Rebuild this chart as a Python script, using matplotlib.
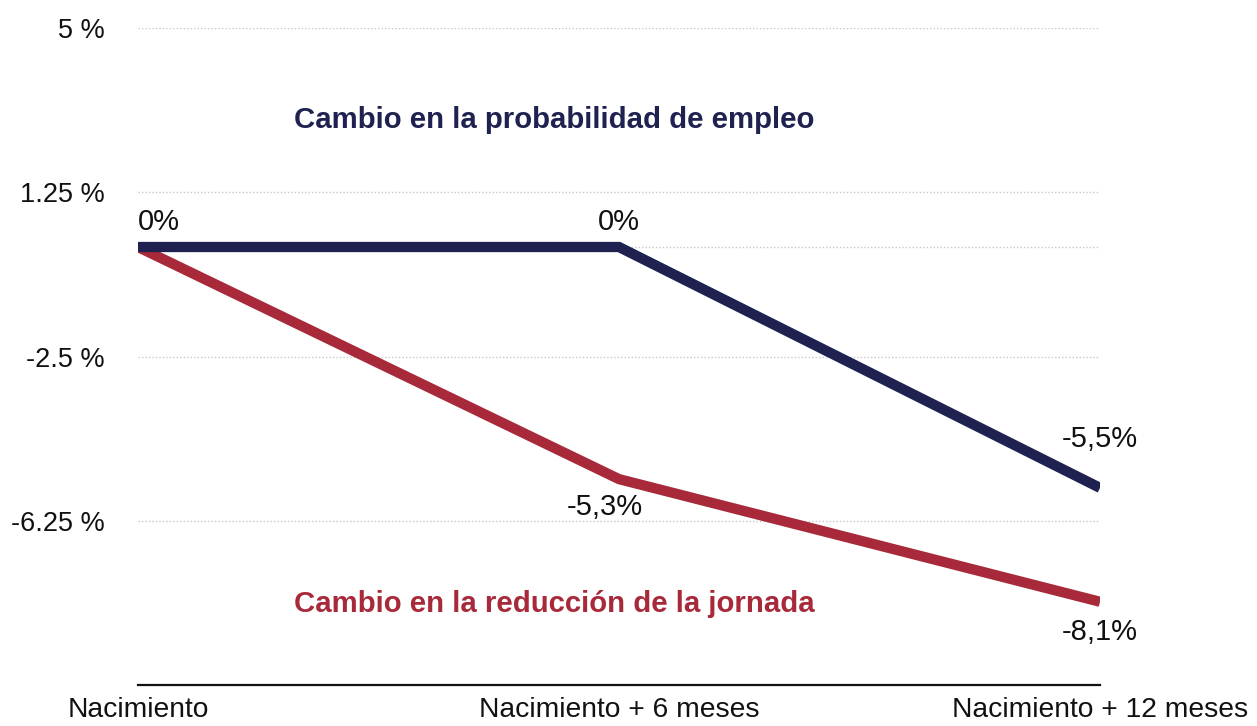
import matplotlib
matplotlib.use("Agg")
import matplotlib.pyplot as plt

plt.rcParams['font.family'] = ['Liberation Sans', 'DejaVu Sans']

periodos = ["Nacimiento", "Nacimiento + 6 meses", "Nacimiento + 12 meses"]
empleo = [0.0, 0.0, -5.5]
jornada = [0.0, -5.3, -8.1]
etiquetas_empleo = ["0%", "0%", "-5,5%"]
etiquetas_jornada = [None, "-5,3%", "-8,1%"]
yticks = [-6.25, -2.5, 1.25, 5]
ytick_labels = ["-6.25 %", "-2.5 %", "1.25 %", "5 %"]

azul = "#1f2251"
rojo = "#a82a3a"

fig = plt.figure(figsize=(12.57, 7.26), dpi=100)
ax = fig.add_axes([0.1098, 0.0565, 0.7653, 0.9049])

x = list(range(len(periodos)))
ax.plot(x, jornada, color=rojo, lw=7.4, solid_capstyle='butt', solid_joinstyle='miter', zorder=3)
ax.plot(x, empleo, color=azul, lw=7.4, solid_capstyle='butt', solid_joinstyle='miter', zorder=4)

ax.set_xlim(0, 2)
ax.set_ylim(-10, 5)

# grid: dotted light grey, plus one extra line at zero
ax.set_yticks(yticks)
ax.set_yticklabels(ytick_labels, fontsize=19.5)
ax.yaxis.grid(True, color="#c8c8c8", ls=(0, (1, 1.5)), lw=1)
ax.axhline(0, color="#c8c8c8", ls=(0, (1, 1.5)), lw=1, zorder=1)
ax.set_axisbelow(True)
ax.tick_params(axis='y', length=0, pad=24, labelcolor="#111111")

ax.set_xticks(x)
ax.set_xticklabels(periodos, fontsize=20.3)
ax.tick_params(axis='x', length=0, pad=9, labelcolor="#111111")

for s in ['top', 'right', 'left']:
    ax.spines[s].set_visible(False)
ax.spines['bottom'].set_linewidth(1.6)
ax.spines['bottom'].set_color("#111111")

# value labels
lab_kw = dict(textcoords="offset points", fontsize=21, color="#111111")
ax.annotate(etiquetas_empleo[0], (x[0], empleo[0]), xytext=(0, 8), ha='left', va='bottom', **lab_kw)
ax.annotate(etiquetas_empleo[1], (x[1], empleo[1]), xytext=(0, 8), ha='center', va='bottom', **lab_kw)
ax.annotate(etiquetas_empleo[2], (x[2], empleo[2]), xytext=(0, 25), ha='center', va='bottom', **lab_kw)
ax.annotate(etiquetas_jornada[1], (x[1], jornada[1]), xytext=(-10, -10), ha='center', va='top', **lab_kw)
ax.annotate(etiquetas_jornada[2], (x[2], jornada[2]), xytext=(0, -12), ha='center', va='top', **lab_kw)

# series names
ax.text(0.865, 2.9, "Cambio en la probabilidad de empleo", color=azul, fontsize=21.2,
        fontweight='bold', ha='center', va='center')
ax.text(0.865, -8.15, "Cambio en la reducción de la jornada", color=rojo, fontsize=21.2,
        fontweight='bold', ha='center', va='center')

fig.savefig("out.png", dpi=100, facecolor="white")
